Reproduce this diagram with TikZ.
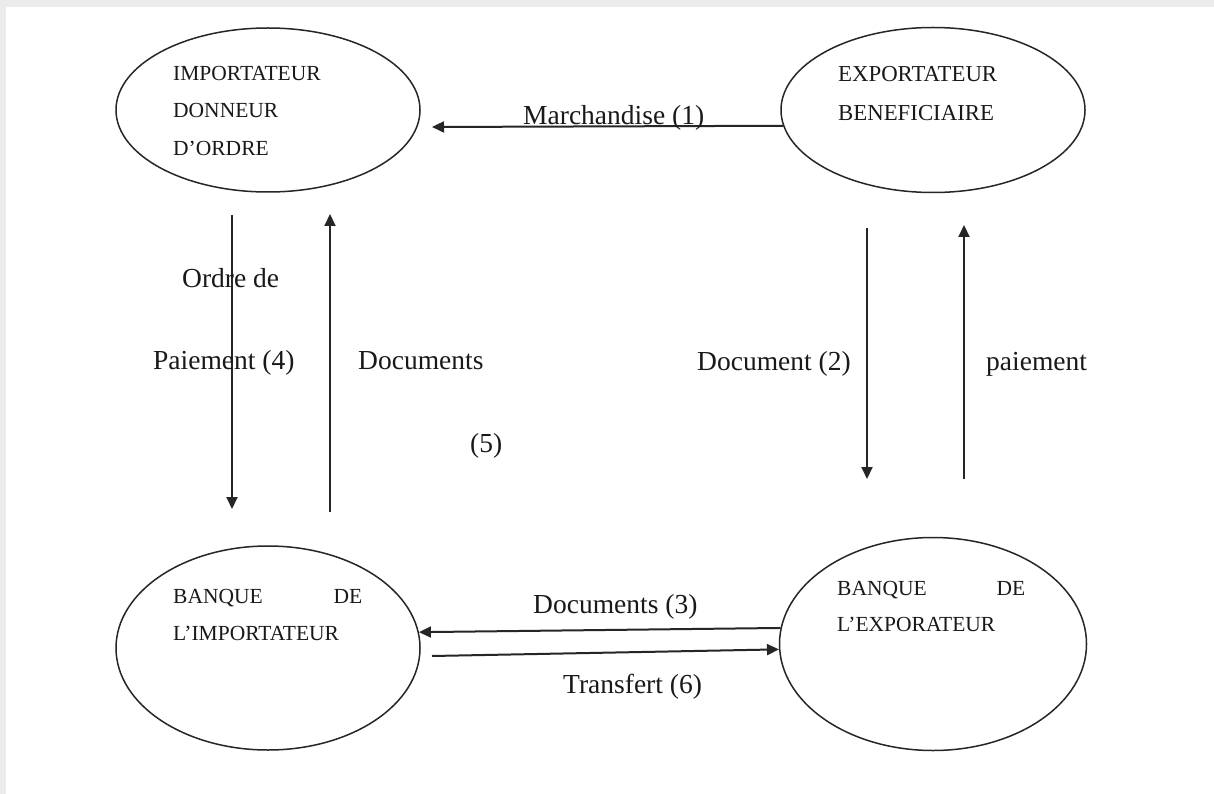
\documentclass[tikz,border=0pt]{standalone}
\usepackage{fontspec}
\setmainfont{Liberation Serif}
\usetikzlibrary{shapes.geometric,arrows.meta}
\tikzset{
  ell/.style={draw=black!85, line width=1.5pt, ellipse, inner sep=0pt},
  arr/.style={draw=black!85, line width=2pt, -{Triangle[length=12pt,width=11pt]}},
  lbl/.style={inner sep=0pt, anchor=base west, font=\fontsize{27.5}{33}\selectfont, text=black!90},
  etxt/.style={inner sep=0pt, anchor=west, align=left, text=black!90},
}
\begin{document}
\begin{tikzpicture}[x=1pt,y=-1pt]
\useasboundingbox (0,0) rectangle (1214,794);
\fill[black!8] (0,0) rectangle (1214,794);
\fill[white] (6,7) rectangle (1214,794);

% ellipses
\node[ell, minimum width=304pt, minimum height=164pt] (imp) at (268,110) {};
\node[ell, minimum width=304pt, minimum height=165pt] (exp) at (933,110) {};
\node[ell, minimum width=304pt, minimum height=204pt] (bimp) at (268,648) {};
\node[ell, minimum width=307pt, minimum height=213pt] (bexp) at (933,644) {};

% texts in ellipses
\node[etxt, font=\fontsize{21.5}{37.5}\selectfont] (timp) at (173,110.5) {IMPORTATEUR\\DONNEUR\\D’ORDRE};
\node[etxt, font=\fontsize{22.8}{39}\selectfont] (texp) at (838,93.5) {EXPORTATEUR\\BENEFICIAIRE};
\node[etxt, font=\fontsize{21.5}{37}\selectfont] (tbimp) at (173,614.5) {\makebox[189pt]{BANQUE\hfill DE}\\L’IMPORTATEUR};
\node[etxt, font=\fontsize{21.5}{36}\selectfont] (tbexp) at (837,606) {\makebox[188pt]{BANQUE\hfill DE}\\L’EXPORATEUR};

% free ends
\coordinate (m1) at (432,127);
\coordinate (a1) at (232,215);
\coordinate (a2) at (232,509);
\coordinate (b1) at (330,512);
\coordinate (b2) at (330,214);
\coordinate (c1) at (867,228);
\coordinate (c2) at (867,479);
\coordinate (d1) at (964,479);
\coordinate (d2) at (964,225);
\coordinate (t1) at (432,656);

% connectors
\draw[arr] (exp.186) -- (m1);
\draw[arr] (a1) -- (a2);
\draw[arr] (b1) -- (b2);
\draw[arr] (c1) -- (c2);
\draw[arr] (d1) -- (d2);
\draw[arr] (bexp.174.4) -- (bimp.6.8);
\draw[arr] (t1) -- (bexp.182.3);

% labels
\node[lbl] (l1) at (523,125) {Marchandise (1)};
\node[lbl] (l4a) at (182,287) {Ordre de};
\node[lbl] (l4b) at (153,369) {Paiement (4)};
\node[lbl] (l5a) at (358,369) {Documents};
\node[lbl] (l5b) at (470,452) {(5)};
\node[lbl] (l2) at (697,370) {Document (2)};
\node[lbl] (lp) at (986,370) {paiement};
\node[lbl] (l3) at (533,613) {Documents (3)};
\node[lbl] (l6) at (563,693) {Transfert (6)};
\end{tikzpicture}
\end{document}
